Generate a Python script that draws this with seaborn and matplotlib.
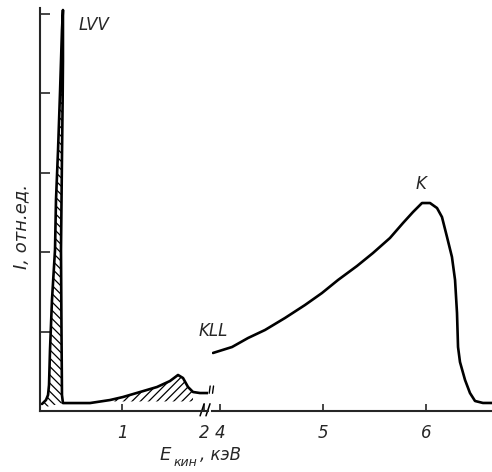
import numpy as np
import pandas as pd
import matplotlib
matplotlib.use("Agg")
import matplotlib.pyplot as plt
import seaborn as sns


# Data (energy in keV, intensity in rel. units)

# LVV peak: up the left flank, then down the right flank
lvv_e = [0.024, 0.073, 0.098, 0.110, 0.122, 0.146, 0.183, 0.195, 0.220,
         0.244, 0.268, 0.280, 0.280, 0.276, 0.268, 0.256, 0.262, 0.268, 0.280]
lvv_i = [0.088, 0.138, 0.201, 0.327, 0.767, 1.396, 2.025, 2.654, 3.283,
         4.000, 4.792, 5.044, 4.400, 3.900, 3.200, 2.025, 1.020, 0.200, 0.100]

# low-energy background with the small bump
low_e = [0.280, 0.610, 0.854, 1.012, 1.220, 1.427, 1.585, 1.683, 1.744,
         1.805, 1.866, 1.951, 2.049]
low_i = [0.100, 0.100, 0.138, 0.176, 0.239, 0.302, 0.377, 0.453, 0.415,
         0.302, 0.239, 0.226, 0.226]

# KLL ... K part of the spectrum
k_e = [3.932, 4.117, 4.272, 4.437, 4.631, 4.825, 4.990, 5.146, 5.330,
       5.485, 5.650, 5.777, 5.874, 5.961, 6.039, 6.107, 6.155, 6.204,
       6.252, 6.282, 6.301, 6.311, 6.330, 6.379, 6.427, 6.476, 6.553, 6.641]
k_i = [0.730, 0.805, 0.918, 1.019, 1.170, 1.333, 1.484, 1.648, 1.824,
       1.987, 2.176, 2.365, 2.503, 2.616, 2.616, 2.553, 2.440, 2.189,
       1.937, 1.648, 1.233, 0.805, 0.616, 0.390, 0.226, 0.126, 0.101, 0.101]

left_ticks = [1, 2]
right_ticks = [4, 5, 6]
y_ticks = [1, 2, 3, 4, 5]


sns.set_style("ticks")
plt.rcParams["font.family"] = ["DejaVu Sans"]
plt.rcParams["hatch.linewidth"] = 0.9

W, H = 492, 472
fig = plt.figure(figsize=(W / 100, H / 100), dpi=100)

bottom = 1 - 411 / H
height = 403 / H
ymax = 403 / 79.5

ax1 = fig.add_axes([40 / W, bottom, 168 / W, height])
ax2 = fig.add_axes([212 / W, bottom, 280 / W, height])

lw = 1.9
low_df = pd.DataFrame({"E": lvv_e + low_e[1:], "I": lvv_i + low_i[1:]})
sns.lineplot(data=low_df, x="E", y="I", ax=ax1, color="black", lw=lw,
             sort=False, estimator=None, solid_joinstyle="round")

# hatched areas under the LVV peak and the small bump
ax1.fill(lvv_e + [0.024], lvv_i + [0.04], facecolor="none", edgecolor="black",
         hatch="\\\\\\\\", lw=0)
bump_e = np.array(low_e[2:11])
bump_i = np.array(low_i[2:11])
ax1.fill_between(bump_e, bump_i, 0.12, facecolor="none",
                 edgecolor="black", hatch="////", lw=0)

k_df = pd.DataFrame({"E": k_e, "I": k_i})
sns.lineplot(data=k_df, x="E", y="I", ax=ax2, color="black", lw=lw,
             sort=False, estimator=None, solid_joinstyle="round")

ax1.set_xlim(0, 168 / 82)
ax2.set_xlim(4 - 8 / 103, 4 + 280 / 103 - 8 / 103)
for ax in (ax1, ax2):
    ax.set_ylim(0, ymax)
    ax.set_xlabel("")
    ax.set_ylabel("")
    ax.set_facecolor("none")
    for side in ("top", "right"):
        ax.spines[side].set_visible(False)
    ax.spines["bottom"].set_linewidth(1.5)
    ax.tick_params(axis="x", direction="in", length=5, width=1.2,
                   pad=9, labelsize=12)

ax1.spines["left"].set_linewidth(1.5)
ax2.spines["left"].set_visible(False)
ax2.set_yticks([])
ax1.set_yticks(y_ticks)
ax1.set_yticklabels([])
ax1.tick_params(axis="y", direction="in", length=7, width=1.2)

ax1.set_xticks(left_ticks)
ax1.set_xticklabels([str(t) for t in left_ticks], style="italic")
ax2.set_xticks(right_ticks)
ax2.set_xticklabels([str(t) for t in right_ticks], style="italic")

# axis break marks
for xb in (0.965, 1.0):
    ax1.plot([xb - 0.012, xb + 0.012], [-0.012, 0.018], transform=ax1.transAxes,
             color="black", lw=1.1, clip_on=False)
# curve break marks at the end of the low-energy part
for xb in (1.01, 1.03):
    ax1.plot([xb - 0.003, xb + 0.003], [0.044, 0.062], transform=ax1.transAxes,
             color="black", lw=1.0, clip_on=False)

# peak labels and axis titles
fig.text(94 / W, 1 - 25 / H, "LVV", style="italic", fontsize=12,
         ha="center", va="center")
fig.text(213 / W, 1 - 331 / H, "KLL", style="italic", fontsize=12,
         ha="center", va="center")
fig.text(421 / W, 1 - 184 / H, "K", style="italic", fontsize=12,
         ha="center", va="center")
fig.text(21 / W, 1 - 226 / H, "I, отн.ед.", style="italic", fontsize=13,
         rotation=90, ha="center", va="center")
fig.text(160 / W, 1 - 455 / H, "E", style="italic", fontsize=13,
         ha="left", va="center")
fig.text(174 / W, 1 - 462 / H, "кин", style="italic", fontsize=9,
         ha="left", va="center")
fig.text(200 / W, 1 - 455 / H, ", кэВ", style="italic", fontsize=12,
         ha="left", va="center")

fig.savefig("out.png", dpi=100)
